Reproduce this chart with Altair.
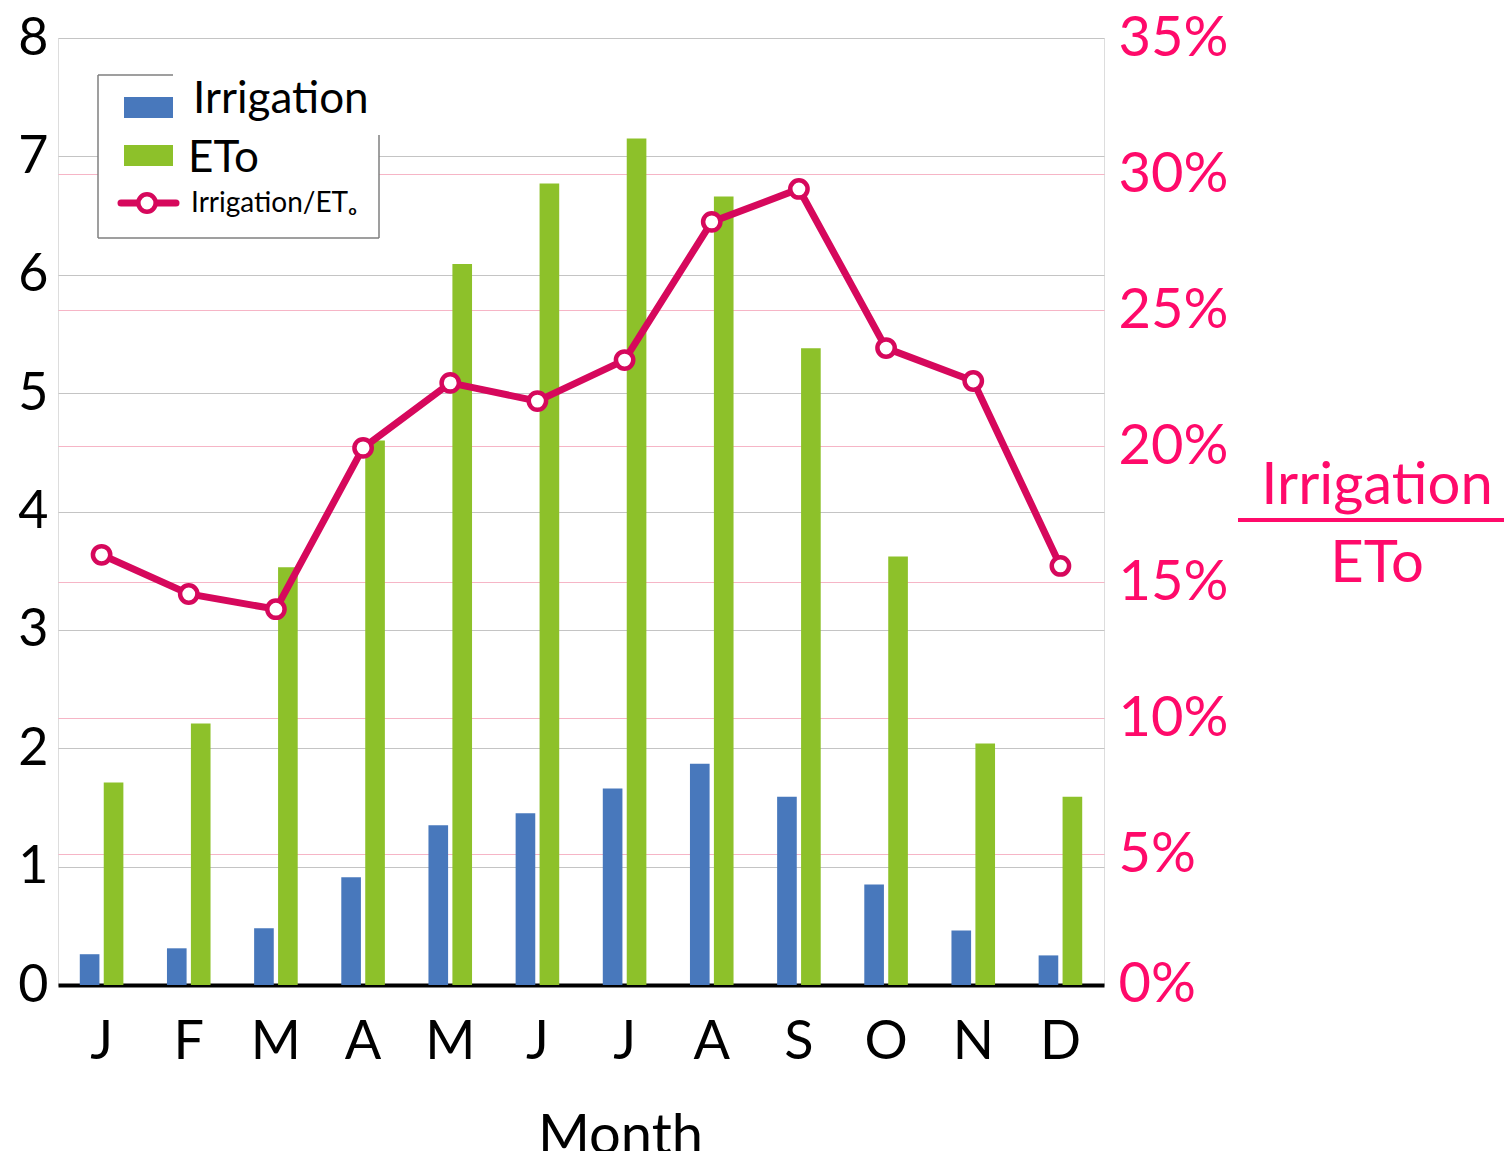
import altair as alt
import pandas as pd

# ---- data ----
month_keys = ["Jan", "Feb", "Mar", "Apr", "May", "Jun", "Jul", "Aug", "Sep", "Oct", "Nov", "Dec"]
month_labels = ["J", "F", "M", "A", "M", "J", "J", "A", "S", "O", "N", "D"]
irrigation = [0.26, 0.31, 0.48, 0.91, 1.35, 1.45, 1.66, 1.87, 1.59, 0.85, 0.46, 0.25]
eto = [1.71, 2.21, 3.53, 4.60, 6.09, 6.77, 7.15, 6.66, 5.38, 3.62, 2.04, 1.59]
ratio_pct = [16.0, 14.56, 14.0, 19.93, 22.32, 21.65, 23.16, 28.24, 29.45, 23.6, 22.39, 15.59]
left_ticks = [0, 1, 2, 3, 4, 5, 6, 7, 8]
right_ticks = [0.0019, 0.05, 0.10, 0.15, 0.20, 0.25, 0.30, 0.35]
series_names = ["Irrigation", "ETo"]

FONT = "Lato"
BLUE = "#4878BC"
GREEN = "#8DC12A"
LINE_PINK = "#D6085C"
TEXT_PINK = "#FF0A6A"

bars_df = pd.DataFrame(
    [{"month": m, "series": "Irrigation", "value": v} for m, v in zip(month_keys, irrigation)]
    + [{"month": m, "series": "ETo", "value": v} for m, v in zip(month_keys, eto)]
)
ratio_df = pd.DataFrame({"month": month_keys, "ratio": [r / 100 for r in ratio_pct]})

label_map = "{" + ",".join(f"'{k}':'{l}'" for k, l in zip(month_keys, month_labels)) + "}"

x_enc = alt.X(
    "month:N",
    sort=month_keys,
    scale=alt.Scale(paddingInner=0.5, paddingOuter=0.25),
    axis=alt.Axis(
        title="Month",
        labelExpr=f"{label_map}[datum.value]",
        labelFontSize=54,
        labelFont=FONT,
        labelColor="black",
        labelPadding=30,
        labelAngle=0,
        ticks=False,
        domain=True,
        domainColor="black",
        domainWidth=4,
        grid=False,
        titleFontSize=56,
        titleFont=FONT,
        titleFontWeight="normal",
        titleColor="black",
        titlePadding=40,
        titleX=562,
        titleAlign="center",
    ),
)

bars = alt.Chart(bars_df).mark_bar().encode(
    x=x_enc,
    xOffset=alt.XOffset("series:N", sort=series_names, scale=alt.Scale(paddingInner=0.18)),
    y=alt.Y(
        "value:Q",
        scale=alt.Scale(domain=[0, 8], nice=False),
        axis=alt.Axis(
            values=left_ticks,
            title=None,
            labelFontSize=52,
            labelFont=FONT,
            labelColor="black",
            labelPadding=10,
            ticks=False,
            domain=False,
            grid=True,
            gridColor="#C4C4C4",
            gridWidth=1.2,
        ),
    ),
    color=alt.Color(
        "series:N",
        scale=alt.Scale(domain=series_names, range=[BLUE, GREEN]),
        legend=None,
    ),
)

line = alt.Chart(ratio_df).mark_line(
    color=LINE_PINK, strokeWidth=7, point=alt.OverlayMarkDef(
        filled=True, fill="white", stroke=LINE_PINK, strokeWidth=4.5, size=300, shape="circle"
    )
).encode(
    x=alt.X("month:N", sort=month_keys),
    y=alt.Y(
        "ratio:Q",
        scale=alt.Scale(domain=[0.00184, 0.35], nice=False, zero=False),
        axis=alt.Axis(
            orient="right",
            values=right_ticks,
            format=".0%",
            title=None,
            labelFontSize=56,
            labelFont=FONT,
            labelColor=TEXT_PINK,
            labelPadding=14,
            ticks=False,
            domain=False,
            grid=True,
            gridColor="#F4A3B8",
            gridOpacity={"condition": {"test": "datum.value > 0.34 || datum.value < 0.01", "value": 0},
                         "value": 0.8},
            gridWidth=1.2,
        ),
    ),
)

# ---- hand-built legend (box, swatches, labels) ----
one = pd.DataFrame({"k": [0]})
base = alt.Chart(one)

legend_box = base.mark_rect(fill="white", stroke=None).encode(
    x=alt.value(40), x2=alt.value(321), y=alt.value(37), y2=alt.value(200)
)
legend_border = alt.layer(
    base.mark_rule(color="#7F7F7F", strokeWidth=1.5).encode(
        x=alt.value(40), x2=alt.value(115), y=alt.value(37), y2=alt.value(37)),
    base.mark_rule(color="#7F7F7F", strokeWidth=1.5).encode(
        x=alt.value(40), x2=alt.value(40), y=alt.value(37), y2=alt.value(200)),
    base.mark_rule(color="#7F7F7F", strokeWidth=1.5).encode(
        x=alt.value(40), x2=alt.value(321), y=alt.value(200), y2=alt.value(200)),
    base.mark_rule(color="#7F7F7F", strokeWidth=1.5).encode(
        x=alt.value(321), x2=alt.value(321), y=alt.value(97), y2=alt.value(200)),
)
sw_blue = base.mark_rect(color=BLUE).encode(
    x=alt.value(66), x2=alt.value(115), y=alt.value(59), y2=alt.value(80))
sw_green = base.mark_rect(color=GREEN).encode(
    x=alt.value(66), x2=alt.value(115), y=alt.value(107), y2=alt.value(128))
sw_line = base.mark_rule(color=LINE_PINK, strokeWidth=7, strokeCap="round").encode(
    x=alt.value(63), x2=alt.value(118), y=alt.value(165), y2=alt.value(165))
sw_point = base.mark_point(
    shape="circle", filled=True, fill="white", stroke=LINE_PINK, strokeWidth=4.5, size=300, opacity=1
).encode(x=alt.value(89), y=alt.value(165))
lt1 = base.mark_text(text="Irrigation", font=FONT, fontSize=44, align="left", baseline="alphabetic",
                     color="black").encode(x=alt.value(135), y=alt.value(75))
lt2 = base.mark_text(text="ETo", font=FONT, fontSize=44, align="left", baseline="alphabetic",
                     color="black").encode(x=alt.value(130), y=alt.value(134))
lt3 = base.mark_text(text="Irrigation/ETₒ", font=FONT, fontSize=28, align="left", baseline="alphabetic",
                     color="black").encode(x=alt.value(133), y=alt.value(174))

# ---- right-side fraction annotation ----
ann_top = base.mark_text(text="Irrigation", font=FONT, fontSize=58, align="center",
                         baseline="alphabetic", color=TEXT_PINK).encode(x=alt.value(1319), y=alt.value(466))
ann_rule = base.mark_rule(color=TEXT_PINK, strokeWidth=4).encode(
    x=alt.value(1180), x2=alt.value(1460), y=alt.value(482), y2=alt.value(482))
ann_bot = base.mark_text(text="ETo", font=FONT, fontSize=58, align="center",
                         baseline="alphabetic", color=TEXT_PINK).encode(x=alt.value(1319), y=alt.value(544))

main = alt.layer(bars, line).resolve_scale(y="independent")

chart = alt.layer(
    main,
    legend_box, legend_border, sw_blue, sw_green, sw_line, sw_point, lt1, lt2, lt3,
    ann_top, ann_rule, ann_bot,
).properties(
    width=1046,
    height=947,
    padding={"left": 50, "top": 30, "right": 400, "bottom": 166},
    autosize=alt.AutoSizeParams(type="none"),
).configure_view(stroke=None).configure(background="white")

chart.save("out.html", embed_options={"renderer": "svg", "actions": False})
